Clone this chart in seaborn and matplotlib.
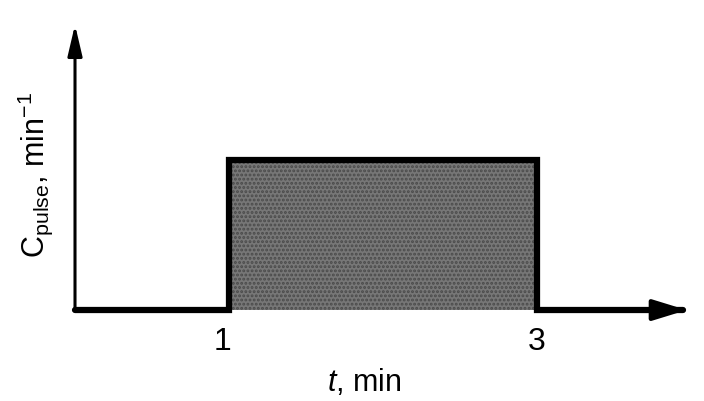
import matplotlib
matplotlib.use('Agg')
import pandas as pd
import matplotlib.pyplot as plt
import seaborn as sns

sns.set_style('white')
plt.rcParams['font.family'] = ['Liberation Sans', 'DejaVu Sans']
plt.rcParams['mathtext.fontset'] = 'custom'
plt.rcParams['mathtext.rm'] = 'Liberation Sans'
plt.rcParams['mathtext.it'] = 'Liberation Sans:italic'
plt.rcParams['hatch.linewidth'] = 1.4
plt.rcParams['text.color'] = 'black'

# pulse input: C = 0.5 min^-1 between t = 1 and t = 3
t_pts = [0, 1, 1, 3, 3, 3.95]
c_pts = [0, 0, 0.5, 0.5, 0, 0]
pulse_start, pulse_end, pulse_height = 1, 3, 0.5
tick_t = [0.96, 3.0]
tick_labels = ['1', '3']

df = pd.DataFrame({'t': t_pts, 'C': c_pts})

fig = plt.figure(figsize=(7.04, 4.01), dpi=100)
ax = fig.add_axes([0, 0, 1, 1])

# shaded pulse area
ax.fill_between([pulse_start, pulse_end], 0, pulse_height,
                facecolor='#777777', edgecolor='#4a4a4a', hatch='....', lw=0)

# outline of the pulse + baseline
sns.lineplot(data=df, x='t', y='C', sort=False, estimator=None,
             color='black', lw=4.5, ax=ax, solid_joinstyle='miter')

# axes arrows
ax.annotate('', xy=(0, 0.96), xytext=(0, -0.01),
            arrowprops=dict(arrowstyle='-|>,head_length=0.94,head_width=0.22',
                            lw=2.2, color='black', mutation_scale=20))
ax.annotate('', xy=(3.99, 0), xytext=(3.0, 0),
            arrowprops=dict(arrowstyle='-|>,head_length=1.04,head_width=0.32',
                            lw=3, color='black', mutation_scale=20))

for tt, lab in zip(tick_t, tick_labels):
    ax.text(tt, -0.105, lab, ha='center', va='center', fontsize=23)

ax.text(1.88, -0.24, r'$t$, min', ha='center', va='center', fontsize=22)
ax.text(-0.26, 0.45, r'$\mathrm{C}_{\mathrm{pulse}}$, min$^{-1}$', ha='center', va='center',
        rotation=90, fontsize=22)

ax.set_xlim(-0.487, 4.084)
ax.set_ylim(-0.303, 1.033)
ax.axis('off')

fig.savefig('out.png', dpi=100)
